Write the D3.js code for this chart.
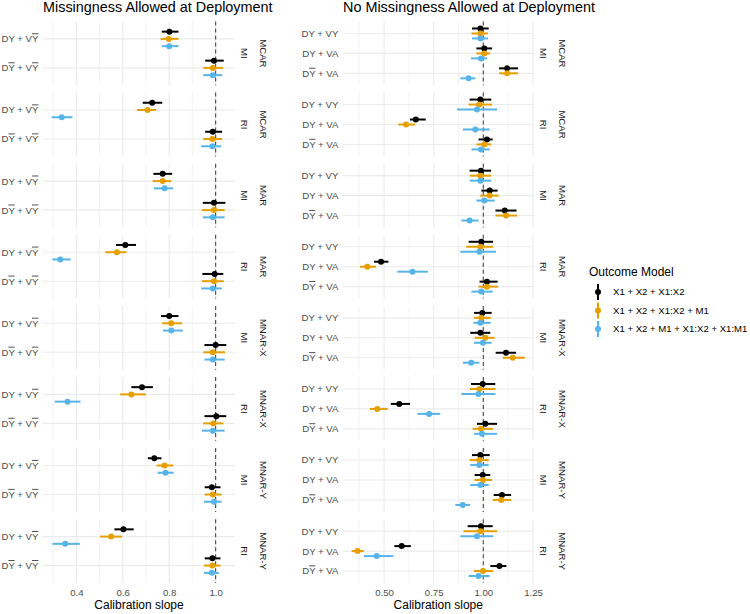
<!DOCTYPE html>
<html>
<head>
<meta charset="utf-8">
<script src="https://cdn.jsdelivr.net/npm/d3@7/dist/d3.min.js"></script>
<style>
  html, body { margin: 0; padding: 0; background: #fff; }
  svg text { font-family: "Liberation Sans", Arial, sans-serif; }
</style>
</head>
<body>
<svg id="chart" width="750" height="614"></svg>
<script>
// ---------------- DATA ----------------
const mechanisms = ["MCAR", "MAR", "MNAR-X", "MNAR-Y"];
const schemes = ["MI", "RI"];
const models = ["X1 + X2 + X1:X2", "X1 + X2 + X1:X2 + M1", "X1 + X2 + M1 + X1:X2 + X1:M1"];
const modelColors = ["#000000", "#E69F00", "#56B4E9"];

const leftTitle = "Missingness Allowed at Deployment";
const rightTitle = "No Missingness Allowed at Deployment";
const xTitle = "Calibration slope";
const legendTitle = "Outcome Model";

// "\u0305" after a letter = overlined letter
const leftPredictors = ["DY + VY\u0305", "DY\u0305 + VY\u0305"];
const rightPredictors = ["DY + VY", "DY + VA", "DY\u0305 + VA"];

const leftTicks = [0.4, 0.6, 0.8, 1.0];
const leftMinor = [0.3, 0.5, 0.7, 0.9];
const leftTickLabels = ["0.4", "0.6", "0.8", "1.0"];
const rightTicks = [0.5, 0.75, 1.0, 1.25];
const rightMinor = [0.375, 0.625, 0.875, 1.125];
const rightTickLabels = ["0.50", "0.75", "1.00", "1.25"];

// rows: mechanism x scheme x predictor ; each [estimate, lower, upper]
const leftModel1 = [
  [0.801,0.768,0.840],[0.993,0.955,1.035],[0.727,0.686,0.770],[0.988,0.955,1.028],
  [0.772,0.732,0.813],[0.993,0.945,1.042],[0.611,0.571,0.657],[0.996,0.943,1.033],
  [0.800,0.765,0.840],[1.000,0.952,1.046],[0.683,0.637,0.730],[1.003,0.952,1.046],
  [0.736,0.708,0.767],[0.984,0.953,1.021],[0.603,0.564,0.647],[0.986,0.953,1.021]
];
const leftModel2 = [
  [0.798,0.763,0.840],[0.988,0.947,1.032],[0.707,0.662,0.744],[0.986,0.947,1.028],
  [0.772,0.729,0.809],[0.993,0.941,1.039],[0.575,0.525,0.616],[0.993,0.941,1.035],
  [0.809,0.770,0.856],[0.988,0.947,1.041],[0.637,0.589,0.700],[0.990,0.947,1.033],
  [0.780,0.746,0.818],[0.988,0.953,1.026],[0.550,0.503,0.597],[0.986,0.950,1.021]
];
const leftModel3 = [
  [0.800,0.768,0.840],[0.988,0.947,1.029],[0.337,0.294,0.383],[0.986,0.938,1.024],
  [0.780,0.734,0.817],[0.988,0.945,1.039],[0.331,0.297,0.376],[0.988,0.938,1.027],
  [0.809,0.773,0.859],[0.988,0.952,1.039],[0.362,0.307,0.418],[0.988,0.941,1.039],
  [0.784,0.750,0.819],[0.993,0.950,1.026],[0.352,0.297,0.415],[0.984,0.950,1.014]
];

const rightModel1 = [
  [0.985,0.943,1.027],[1.005,0.965,1.044],[1.120,1.079,1.175],
  [0.985,0.931,1.040],[0.660,0.631,0.710],[1.018,0.976,1.047],
  [0.988,0.931,1.039],[1.032,0.990,1.072],[1.108,1.061,1.167],
  [0.990,0.926,1.049],[0.485,0.450,0.522],[1.018,0.981,1.072],
  [0.995,0.953,1.042],[0.985,0.934,1.035],[1.114,1.062,1.165],
  [0.997,0.938,1.060],[0.577,0.534,0.631],[1.010,0.968,1.069],
  [0.985,0.943,1.032],[0.997,0.956,1.035],[1.094,1.052,1.140],
  [0.988,0.921,1.047],[0.589,0.552,0.635],[1.081,1.035,1.116]
];
const rightModel2 = [
  [0.985,0.940,1.024],[1.005,0.965,1.035],[1.120,1.079,1.175],
  [0.980,0.926,1.044],[0.611,0.572,0.657],[1.005,0.965,1.039],
  [0.985,0.931,1.039],[1.032,0.985,1.077],[1.114,1.061,1.170],
  [0.985,0.914,1.049],[0.416,0.379,0.460],[1.018,0.976,1.074],
  [0.990,0.953,1.037],[1.010,0.956,1.057],[1.148,1.098,1.209],
  [0.980,0.931,1.061],[0.466,0.429,0.519],[0.988,0.946,1.049],
  [0.980,0.931,1.027],[0.998,0.956,1.044],[1.090,1.047,1.140],
  [0.985,0.900,1.069],[0.367,0.337,0.399],[0.998,0.953,1.049]
];
const rightModel3 = [
  [0.985,0.943,1.024],[0.988,0.938,1.020],[0.926,0.884,0.960],
  [0.968,0.867,1.069],[0.960,0.897,1.032],[0.988,0.940,1.032],
  [0.985,0.931,1.039],[1.005,0.965,1.057],[0.931,0.889,0.976],
  [0.980,0.884,1.064],[0.643,0.567,0.721],[0.990,0.940,1.047],
  [0.985,0.950,1.037],[0.998,0.953,1.042],[0.939,0.897,0.980],
  [0.976,0.889,1.061],[0.727,0.668,0.783],[0.993,0.953,1.069],
  [0.980,0.934,1.027],[0.985,0.934,1.027],[0.896,0.859,0.934],
  [0.968,0.884,1.050],[0.463,0.399,0.547],[0.976,0.926,1.032]
];

// ---------------- LAYOUT ----------------
const svg = d3.select("#chart");
const panelTop = 21.5, panelH = 63.8, panelGap = 7.3;
const tickFont = 9.6, titleFont = 14.4, axisTitleFont = 12;

function addLabel(sel, label) {
  const parts = label.split(/(.\u0305)/).filter(s => s.length);
  parts.forEach(p => {
    if (p.length === 2 && p[1] === "\u0305") {
      sel.append("tspan").text(p[0]).style("text-decoration", "overline");
    } else {
      sel.append("tspan").text(p);
    }
  });
}

function drawPlot(cfg) {
  const g = svg.append("g");
  const all = [cfg.m1, cfg.m2, cfg.m3].flat();
  const lo = d3.min(all, d => d[1]), hi = d3.max(all, d => d[2]);
  const pad = (hi - lo) * 0.05;
  const x = d3.scaleLinear().domain([lo - pad, hi + pad]).range([cfg.x0, cfg.x1]);
  const seriesList = [cfg.m1, cfg.m2, cfg.m3];
  const np = cfg.predictors.length;

  // title
  g.append("text").attr("x", cfg.x0).attr("y", 12.3)
    .attr("font-size", titleFont).attr("fill", "#000").text(cfg.title);

  let row = 0;
  mechanisms.forEach((mech, mi) => {
    schemes.forEach((sch, si) => {
      const pi = mi * 2 + si;
      const top = panelTop + pi * (panelH + panelGap);
      const bottom = top + panelH;
      const y = d3.scalePoint().domain(cfg.predictors).range([top, bottom]).padding(0.6);
      const step = y.step();
      const pg = g.append("g");

      // minor grid
      pg.selectAll(".minor").data(cfg.minor.filter(v => v >= x.domain()[0] && v <= x.domain()[1]))
        .enter().append("line")
        .attr("x1", d => x(d)).attr("x2", d => x(d)).attr("y1", top).attr("y2", bottom)
        .attr("stroke", "#ebebeb").attr("stroke-width", 0.6);
      // major grid
      pg.selectAll(".major").data(cfg.ticks.filter(v => v >= x.domain()[0] && v <= x.domain()[1]))
        .enter().append("line")
        .attr("x1", d => x(d)).attr("x2", d => x(d)).attr("y1", top).attr("y2", bottom)
        .attr("stroke", "#ebebeb").attr("stroke-width", 1.1);
      pg.selectAll(".hgrid").data(cfg.predictors).enter().append("line")
        .attr("x1", cfg.x0).attr("x2", cfg.x1).attr("y1", d => y(d)).attr("y2", d => y(d))
        .attr("stroke", "#ebebeb").attr("stroke-width", 1.1);

      // y labels
      cfg.predictors.forEach(p => {
        const t = pg.append("text").attr("x", cfg.x0 - 4.6).attr("y", y(p) + 3.4)
          .attr("text-anchor", "end").attr("font-size", tickFont).attr("fill", "#4d4d4d");
        addLabel(t, p);
      });

      // dashed reference line
      pg.append("line").attr("x1", x(1)).attr("x2", x(1)).attr("y1", top).attr("y2", bottom)
        .attr("stroke", "#555").attr("stroke-width", 1.2).attr("stroke-dasharray", "4,3");

      // pointranges
      seriesList.forEach((ser, k) => {
        const off = (k - 1) * 0.25 * step;
        cfg.predictors.forEach((p, j) => {
          const d = ser[row * np + j];
          const yy = y(p) + off;
          pg.append("line").attr("x1", x(d[1])).attr("x2", x(d[2]))
            .attr("y1", yy).attr("y2", yy)
            .attr("stroke", modelColors[k]).attr("stroke-width", 2);
          pg.append("circle").attr("cx", x(d[0])).attr("cy", yy).attr("r", 3)
            .attr("fill", modelColors[k]);
        });
      });

      // strips
      const cy = (top + bottom) / 2;
      pg.append("text").attr("transform", `translate(${cfg.x1 + 9.5},${cy}) rotate(90)`)
        .attr("text-anchor", "middle").attr("dy", "0.35em")
        .attr("font-size", tickFont).attr("fill", "#1a1a1a").text(sch);
      pg.append("text").attr("transform", `translate(${cfg.x1 + 28.5},${cy}) rotate(90)`)
        .attr("text-anchor", "middle").attr("dy", "0.35em")
        .attr("font-size", tickFont).attr("fill", "#1a1a1a").text(mech);

      row++;
    });
  });

  // x axis
  const lastBottom = panelTop + 7 * (panelH + panelGap) + panelH;
  const axis = d3.axisBottom(x).tickValues(cfg.ticks)
    .tickFormat((d, i) => cfg.tickLabels[i]).tickSize(0).tickPadding(0);
  const ag = g.append("g").attr("transform", `translate(0,${lastBottom})`).call(axis);
  ag.select(".domain").remove();
  ag.selectAll("text").attr("font-size", tickFont).attr("fill", "#4d4d4d")
    .attr("font-family", '"Liberation Sans", Arial, sans-serif')
    .attr("dy", null).attr("y", 13.4);

  g.append("text").attr("x", (cfg.x0 + cfg.x1) / 2).attr("y", 609.3)
    .attr("text-anchor", "middle").attr("font-size", axisTitleFont).attr("fill", "#000")
    .text(xTitle);
}

drawPlot({
  title: leftTitle, predictors: leftPredictors,
  m1: leftModel1, m2: leftModel2, m3: leftModel3,
  ticks: leftTicks, minor: leftMinor, tickLabels: leftTickLabels,
  x0: 43, x1: 235
});
drawPlot({
  title: rightTitle, predictors: rightPredictors,
  m1: rightModel1, m2: rightModel2, m3: rightModel3,
  ticks: rightTicks, minor: rightMinor, tickLabels: rightTickLabels,
  x0: 343, x1: 533.5
});

// legend
const lg = svg.append("g");
lg.append("text").attr("x", 589).attr("y", 276.3).attr("font-size", axisTitleFont)
  .attr("fill", "#000").text(legendTitle);
const legY = d3.scalePoint().domain(models).range([292, 329]);
models.forEach((m, k) => {
  const yy = legY(m);
  lg.append("line").attr("x1", 598).attr("x2", 598).attr("y1", yy - 8).attr("y2", yy + 8)
    .attr("stroke", modelColors[k]).attr("stroke-width", 2);
  lg.append("circle").attr("cx", 598).attr("cy", yy).attr("r", 3).attr("fill", modelColors[k]);
  lg.append("text").attr("x", 613).attr("y", yy + 3.4).attr("font-size", tickFont)
    .attr("fill", "#000").text(m);
});
</script>
</body>
</html>
